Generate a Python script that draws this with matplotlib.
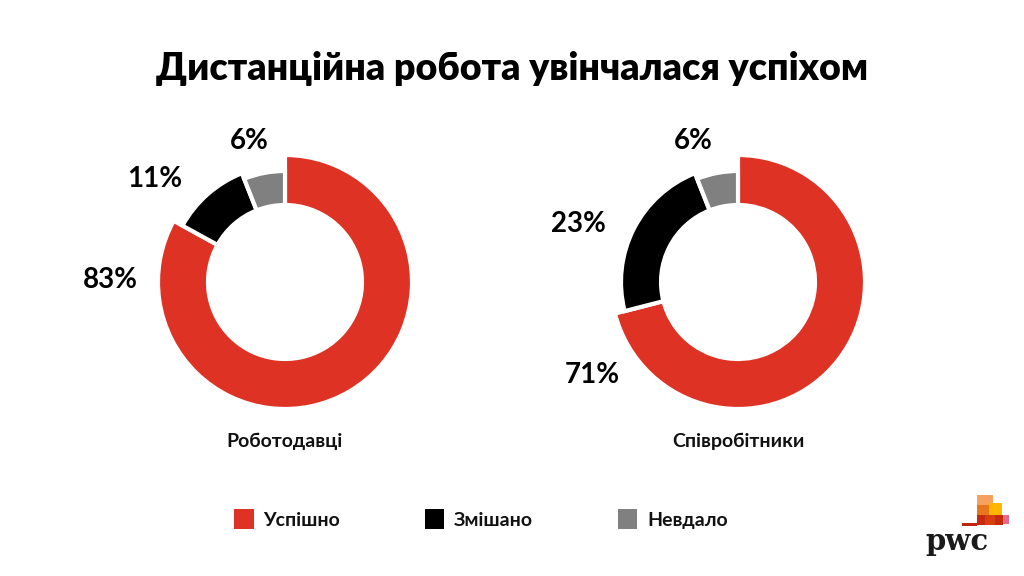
import matplotlib
matplotlib.use("Agg")
import matplotlib.pyplot as plt
from matplotlib.patches import Patch, Rectangle

plt.rcParams['font.family'] = ['Lato', 'DejaVu Sans']

# ---- data ----
title = "Дистанційна робота увінчалася успіхом"
categories = ["Успішно", "Змішано", "Невдало"]
groups = ["Роботодавці", "Співробітники"]
employers = [83, 11, 6]
employees = [71, 23, 6]
colors = ["#DD3224", "#000000", "#808080"]

# ---- layout (pixel units, y measured from top) ----
W, H = 1024, 576
centers = [(285, 282), (738, 282)]
outer_r = [127, 117, 111]   # per category
inner_r = 77
# label positions (x, y) per donut, per category
label_pos = [
    [(110, 280), (155, 179), (249, 141)],
    [(592, 375), (578, 224), (693, 141)],
]
group_label_y = 441

fig = plt.figure(figsize=(10.24, 5.76), dpi=100)
ax = fig.add_axes([0, 0, 1, 1])

for gi, vals in enumerate([employers, employees]):
    cx, cy = centers[gi]
    wedges, _ = ax.pie(vals, radius=outer_r[0], center=(cx, H - cy),
                       startangle=90, counterclock=False, colors=colors,
                       wedgeprops=dict(width=outer_r[0] - inner_r,
                                       edgecolor='white', linewidth=3),
                       frame=True)
    for w, r in zip(wedges, outer_r):
        w.set_radius(r)
        w.set_width(r - inner_r)
    for v, (lx, ly) in zip(vals, label_pos[gi]):
        ax.text(lx, H - ly, f"{v}%", ha='center', va='center',
                fontsize=20, fontweight='bold', color='black')
    ax.text(cx, H - group_label_y, groups[gi], ha='center', va='center',
            fontsize=14, fontweight='bold', color='#111111')

ax.set_xlim(0, W)
ax.set_ylim(0, H)
ax.set_aspect('equal')
ax.axis('off')

fig.text(0.5, 1 - 68 / H, title, ha='center', va='center',
         fontsize=27, fontweight='heavy', color='black')

handles = [Patch(facecolor=c, edgecolor='none', label=l)
           for c, l in zip(colors, categories)]
leg = fig.legend(handles=handles, loc='center', ncol=3,
                 bbox_to_anchor=(481 / W, 1 - 519 / H),
                 frameon=False, fontsize=14, handlelength=1.0,
                 handleheight=1.2, handletextpad=0.5, columnspacing=4.35,
                 borderpad=0)
for t in leg.get_texts():
    t.set_fontweight('bold')
    t.set_color('#111111')

# pwc logo (decorative)
def frect(x, y, w, h, c):
    fig.patches.append(Rectangle((x / W, 1 - (y + h) / H), w / W, h / H,
                                 transform=fig.transFigure, facecolor=c,
                                 edgecolor='none'))

frect(977, 495, 16, 10, "#F7A15E")
frect(977, 505, 12, 10, "#E8761D")
frect(989, 503, 13, 14, "#FFB600")
frect(977, 515, 26, 10, "#C52A0E")
frect(985, 515, 10, 10, "#D93D12")
frect(1003, 515, 6, 9, "#E46A8A")
frect(962, 523, 15, 3, "#C0260D")
fig.text(925 / W, 1 - 550 / H, "pwc", ha='left', va='baseline',
         fontsize=21, fontweight='bold', family=['DejaVu Serif'],
         color='#1a1a1a')

fig.savefig("out.png", dpi=100, facecolor='white')
